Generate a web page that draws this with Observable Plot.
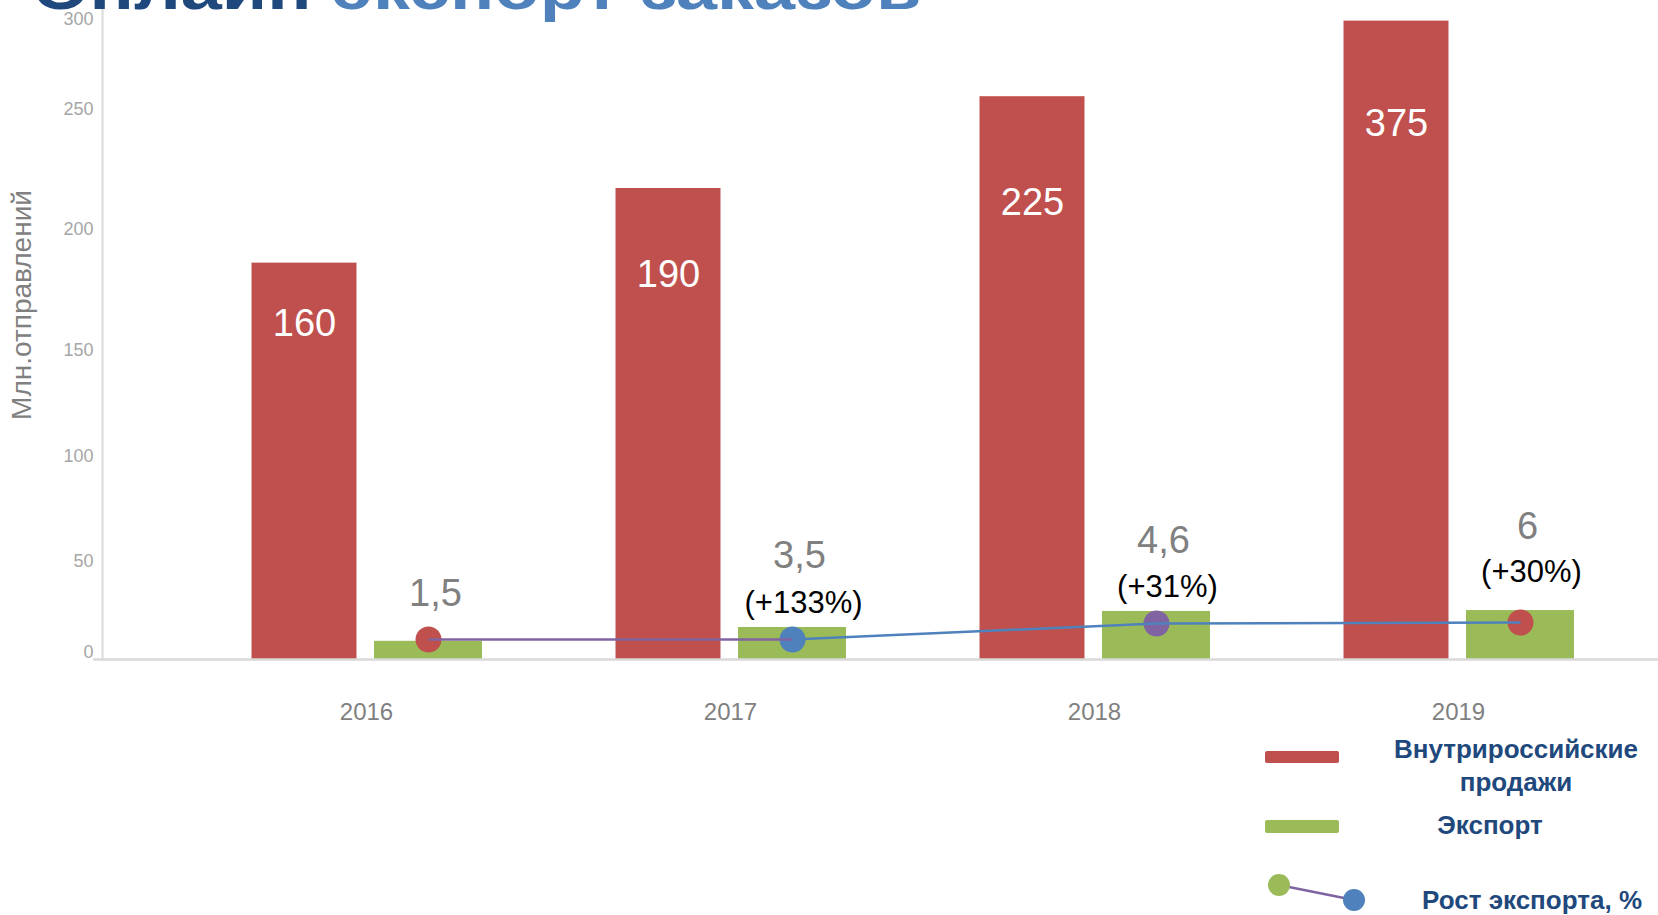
<!DOCTYPE html>
<html>
<head>
<meta charset="utf-8">
<script src="https://cdn.jsdelivr.net/npm/d3@7"></script>
<script src="https://cdn.jsdelivr.net/npm/@observablehq/plot@0.6"></script>
<style>
  html, body { margin: 0; padding: 0; background: #fff; overflow: hidden; }
  #wrap { position: relative; width: 1658px; height: 915px; overflow: hidden; font-family: "Liberation Sans", Arial, sans-serif; }
  #title { position: absolute; left: 32px; top: -43px; font-size: 62px; line-height: 62px; font-weight: bold; white-space: nowrap; transform: scaleX(1.19); transform-origin: 0 0; }
  #title .a { color: #1F497D; }
  #title .b { color: #4F81BD; }
  #chart { position: absolute; left: 0; top: 0; }
  .leg { position: absolute; color: #1F497D; font-weight: bold; font-size: 26px; line-height: 33px; text-align: center; white-space: nowrap; }
  .sw { position: absolute; width: 74px; height: 12px; border-radius: 2px; }
</style>
</head>
<body>
<div id="wrap">
  <div id="chart"></div>
  <div id="title"><span class="a">Онлайн</span> <span class="b">экспорт заказов</span></div>
  <div id="legend"></div>
</div>
<script>
// ---- data ----
const years = ["2016", "2017", "2018", "2019"];
// domestic bars (heights as drawn against the axis) and their printed labels
const domesticValues = [189, 220, 261, 303];
const domesticLabels = ["160", "190", "225", "375"];
const domesticLabelAt = [164, 184, 214, 247];
// export bars and labels
const exportValues = [10, 17.6, 26.4, 26.9];
const exportLabels = ["1,5", "3,5", "4,6", "6"];
const exportLabelAt = [36, 56, 63, 70];
// growth line
const growthValues = [11, 11, 19.8, 20.3];
const growthLabels = ["", "(+133%)", "(+31%)", "(+30%)"];
const growthLabelAt = [null, 31, 40, 48];
const growthDotColors = ["#C0504D", "#4F81BD", "#8064A2", "#C0504D"];
const growthSegColors = ["#8064A2", "#4F81BD", "#4F81BD"];
// axis: the reference axis is unevenly spaced; its tick gaps (relative units)
const yTicks = [0, 50, 100, 150, 200, 250, 300];
const yTickGaps = [91, 105, 106, 121, 120, 90];
const yTitle = "Млн.отправлений";
const legendItems = ["Внутрироссийские\nпродажи", "Экспорт", "Рост экспорта, %"];

const RED = "#C0504D", GREEN = "#9BBB59";

// piecewise mapping reproducing the uneven axis
const yUnits = [0, ...d3.cumsum(yTickGaps)];
const yWarp = d3.scaleLinear().domain(yTicks).range(yUnits);

const domestic = years.map((year, i) => ({year, value: domesticValues[i], label: domesticLabels[i], at: domesticLabelAt[i]}));
const exportData = years.map((year, i) => ({year, value: exportValues[i], label: exportLabels[i], at: exportLabelAt[i]}));
const growth = years.map((year, i) => ({year, value: growthValues[i], label: growthLabels[i], at: growthLabelAt[i], color: growthDotColors[i]}));
const segments = growth.slice(1).map((d, i) => ({x1: growth[i].year, y1: growth[i].value, x2: d.year, y2: d.value, color: growthSegColors[i]}));

const step = 364;
const plot = Plot.plot({
  width: 1658,
  height: 740,
  marginLeft: 102,
  marginRight: 0,
  marginTop: 0,
  marginBottom: 81,
  style: {fontFamily: "'Liberation Sans', Arial, sans-serif", background: "white", overflow: "visible"},
  x: {domain: years, range: [184, 184 + step * 4], padding: 0},
  y: {transform: v => yWarp(v), domain: [0, yUnits[yUnits.length - 1]], range: [659, 26]},
  marks: [
    Plot.frame({anchor: "left", stroke: "#d9d9d9", strokeWidth: 2}),
    // axis ticks are not passed through the scale transform, so give them in warped units
    Plot.axisY({ticks: yTicks.map(yWarp), tickSize: 0, tickPadding: 9, fontSize: 18, color: "#a6a6a6", dy: -7, label: null,
      tickFormat: u => String(Math.round(yWarp.invert(u)))}),
    Plot.axisX({tickSize: 0, tickPadding: 43, fontSize: 24, color: "#808080", label: null}),
    Plot.barY(domestic, {x: "year", y: "value", fill: RED, insetLeft: 67.5, insetRight: step - 67.5 - 105}),
    Plot.barY(exportData, {x: "year", y: "value", fill: GREEN, insetLeft: 190, insetRight: step - 190 - 108}),
    Plot.ruleY([0], {stroke: "#d9d9d9", strokeWidth: 2.5, insetLeft: -9}),
    Plot.text(domestic, {x: "year", y: "at", text: "label", fill: "white", fontSize: 38, dx: -62}),
    Plot.text(exportData, {x: "year", y: "at", text: "label", fill: "#808080", fontSize: 38, dx: 69}),
    Plot.text(growth.filter(d => d.label), {x: "year", y: "at", text: "label", fill: "black", fontSize: 31, dx: 73}),
    Plot.dot(growth, {x: "year", y: "value", r: 13, fill: "color", stroke: null, dx: 62}),
    Plot.link(segments, {x1: "x1", y1: "y1", x2: "x2", y2: "y2", stroke: "color", strokeWidth: 2.5, dx: 62}),
    Plot.text([yTitle], {frameAnchor: "left", text: d => d, rotate: -90, textAnchor: "middle", fontSize: 28, fill: "#808080", dx: -80, dy: -25})
  ]
});
document.getElementById("chart").appendChild(plot);

// ---- legend (HTML) ----
const leg = document.getElementById("legend");
leg.innerHTML = `
  <div class="sw" style="left:1265px; top:751px; background:${RED}"></div>
  <div class="leg" style="left:1380px; width:272px; top:733px;">${legendItems[0].replace("\n", "<br>")}</div>
  <div class="sw" style="left:1265px; top:820px; background:${GREEN}; height:13px"></div>
  <div class="leg" style="left:1390px; width:200px; top:809px;">${legendItems[1]}</div>
  <svg style="position:absolute; left:1260px; top:866px;" width="120" height="48">
    <line x1="19" y1="19" x2="94" y2="34" stroke="#8064A2" stroke-width="2.5"/>
    <circle cx="19" cy="19" r="11" fill="${GREEN}"/>
    <circle cx="94" cy="34" r="11" fill="#4F81BD"/>
  </svg>
  <div class="leg" style="left:1410px; width:244px; top:884px;">${legendItems[2]}</div>
`;
</script>
</body>
</html>
